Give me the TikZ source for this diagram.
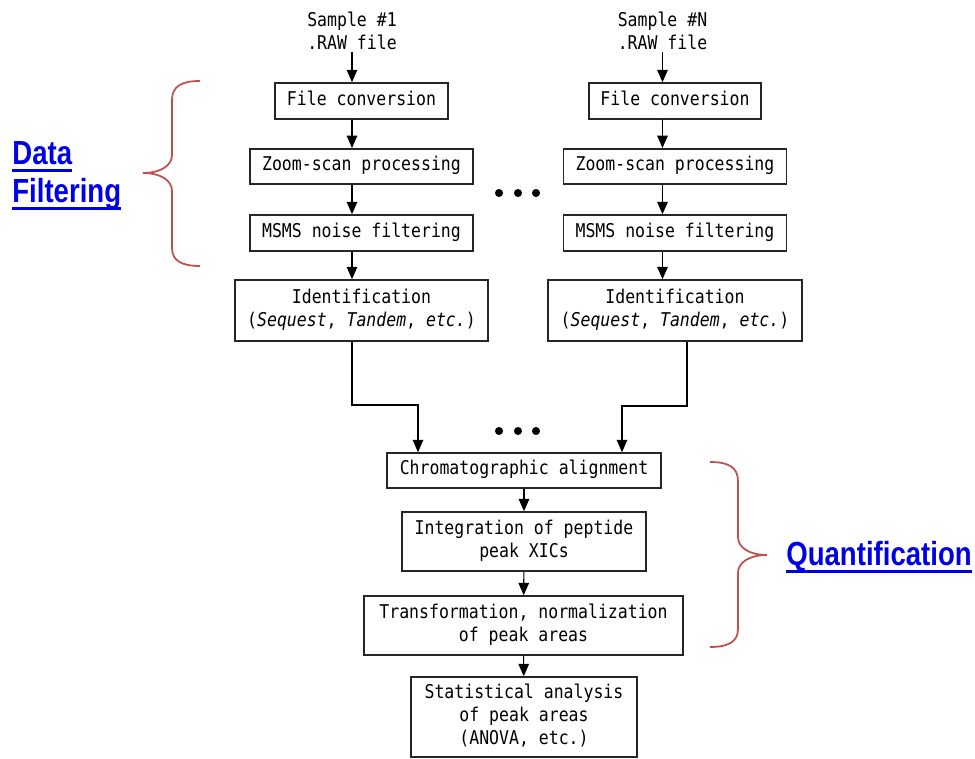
\documentclass[tikz,border=0pt]{standalone}
\usepackage{fontspec}
\setmonofont{DejaVu Sans Mono}[FakeStretch=0.87]
\newfontfamily\tagfont{Liberation Sans}[FakeStretch=0.826]
\usetikzlibrary{arrows.meta}
\definecolor{bracered}{RGB}{192,80,77}
\definecolor{tagblue}{RGB}{0,0,230}
\tikzset{stage/.style={draw=black!85, line width=0.9pt, inner sep=1pt, text depth=3.4pt, align=center, font=\ttfamily\fontsize{10.8}{13}\selectfont},
        inout/.style={inner sep=1pt, align=center, font=\ttfamily\fontsize{10.8}{13}\selectfont},
        arr/.style={-{Triangle[length=7pt,width=6pt]}, line width=0.6pt},
        curly/.style={draw=bracered, line width=1pt},
        tag/.style={inner sep=0pt, text=tagblue, font=\tagfont\bfseries\fontsize{19}{22}\selectfont},
        tagline/.style={draw=tagblue, line width=1.7pt}}

\begin{document}
\begin{tikzpicture}[x=0.02cm, y=-0.02cm]
    \useasboundingbox (0,0) rectangle (975,759);

    % the two sample columns
    \foreach \c/\sx/\bx/\lbl in {1/352/361.5/1, 2/662.5/675/N} {
        \node[inout] (s\c) at (\sx,31) {Sample \#\lbl\\.RAW file};
        \node[stage, minimum width=3.45cm, minimum height=0.72cm] (fc\c) at (\bx,101) {File conversion};
        \node[stage, minimum width=4.46cm, minimum height=0.71cm] (zs\c) at (\bx,166.5) {Zoom-scan processing};
        \node[stage, minimum width=4.46cm, minimum height=0.72cm] (ms\c) at (\bx,233) {MSMS noise filtering};
        \node[stage, minimum width=5.07cm, minimum height=1.22cm] (id\c) at (\bx,310.5) {Identification\\(\textit{Sequest}, \textit{Tandem}, \textit{etc.})};

        \draw[arr] (s\c) -- (fc\c.north -| s\c);
        \draw[arr] (fc\c.south -| s\c) -- (zs\c.north -| s\c);
        \draw[arr] (zs\c.south -| s\c) -- (ms\c.north -| s\c);
        \draw[arr] (ms\c.south -| s\c) -- (id\c.north -| s\c);
    }

    \foreach \dx in {499,518,536} {
        \fill (\dx,193) circle (2.3pt);
        \fill (\dx,431) circle (2.3pt);
    }

    % quantification steps
    \node[stage, minimum width=5.48cm, minimum height=0.7cm] (chrom) at (524,470.5) {Chromatographic alignment};
    \node[stage, minimum width=4.88cm, minimum height=1.18cm] (integ) at (524,541.5) {Integration of peptide\\peak XICs};
    \node[stage, minimum width=6.38cm, minimum height=1.18cm] (transf) at (523.5,625.5) {Transformation, normalization\\of peak areas};
    \node[stage, minimum width=4.52cm, minimum height=1.6cm] (stat) at (524,717) {Statistical analysis\\of peak areas\\(ANOVA, etc.)};

    \coordinate (j1) at (418,405);
    \coordinate (j2) at (622,406);
    \coordinate (d2) at (687,341);
    \draw[arr] (id1.south -| s1) |- (j1) -- (j1 |- chrom.north);
    \draw[arr] (d2 |- id2.south) |- (j2) -- (j2 |- chrom.north);

    \draw[arr] (chrom) -- (integ);
    \draw[arr] (integ) -- (transf);
    \draw[arr] (transf) -- (stat);

    % braces
    \draw[curly] (200,81) .. controls (182,81) and (172,86) .. (172,100) -- (172,155) .. controls (172,166) and (160,173) .. (143,173) .. controls (160,173) and (172,180) .. (172,191) -- (172,248) .. controls (172,261) and (182,266) .. (200,266);
    \draw[curly] (710,462) .. controls (728,462) and (738,467) .. (738,481) -- (738,537) .. controls (738,548) and (750,555) .. (767,555) .. controls (750,555) and (738,562) .. (738,573) -- (738,629) .. controls (738,642) and (728,647) .. (710,647);

    \node[tag, anchor=base west] (data) at (12,165) {Data~};
    \node[tag, anchor=base west] (filt) at (12,203) {Filtering};
    \node[tag, anchor=base west] (quant) at (786,566) {Quantification};
    \foreach \lab in {data,filt,quant}
        \draw[tagline] ([yshift=-2.9pt]\lab.base west) -- ([yshift=-2.9pt]\lab.base east);
\end{tikzpicture}
\end{document}
